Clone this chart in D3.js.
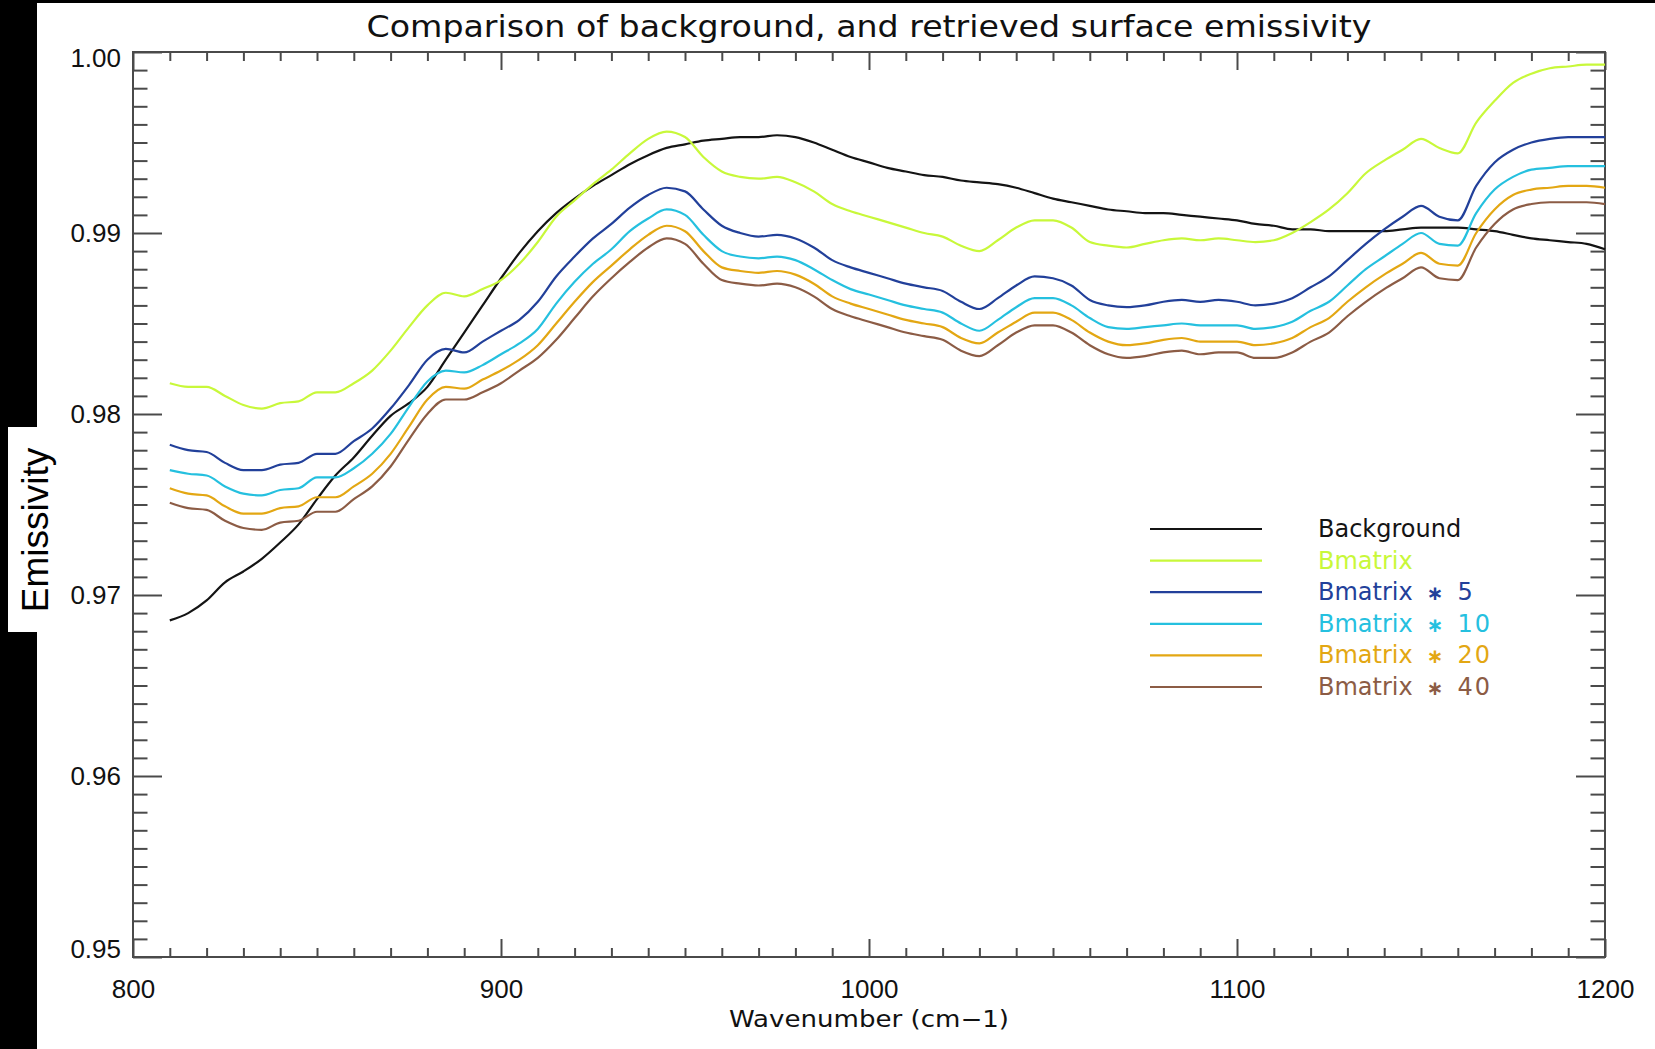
<!DOCTYPE html>
<html>
<head>
<meta charset="utf-8">
<script src="https://cdn.jsdelivr.net/npm/d3@7"></script>
<style>
  body { margin: 0; background: #fff; }
  svg { display: block; }
</style>
</head>
<body>
<svg width="1655" height="1049"></svg>
<script>
// DATA (wavenumber in cm-1, emissivity)
const wavenumber = [
  810, 815, 820, 825, 830, 835, 840, 845, 850, 855, 860, 865, 870, 875, 880, 885, 890, 895, 900, 905,
  910, 915, 920, 925, 930, 935, 940, 945, 950, 955, 960, 965, 970, 975, 980, 985, 990, 995, 1000, 1005,
  1010, 1015, 1020, 1025, 1030, 1035, 1040, 1045, 1050, 1055, 1060, 1065, 1070, 1075, 1080, 1085, 1090, 1095, 1100, 1105,
  1110, 1115, 1120, 1125, 1130, 1135, 1140, 1145, 1150, 1155, 1160, 1165, 1170, 1175, 1180, 1185, 1190, 1195, 1200
];

const background = [
  0.9686, 0.9690, 0.9697, 0.9707, 0.9713, 0.9720, 0.9729, 0.9739, 0.9753, 0.9766, 0.9776, 0.9788, 0.9799, 0.9806, 0.9815, 0.9830, 0.9845, 0.9860, 0.9875, 0.9889,
  0.9901, 0.9911, 0.9919, 0.9926, 0.9932, 0.9938, 0.9943, 0.9947, 0.9949, 0.9951, 0.9952, 0.9953, 0.9953, 0.9954, 0.9953, 0.9950, 0.9946, 0.9942, 0.9939, 0.9936,
  0.9934, 0.9932, 0.9931, 0.9929, 0.9928, 0.9927, 0.9925, 0.9922, 0.9919, 0.9917, 0.9915, 0.9913, 0.9912, 0.9911, 0.9911, 0.9910, 0.9909, 0.9908, 0.9907, 0.9905,
  0.9904, 0.9902, 0.9902, 0.9901, 0.9901, 0.9901, 0.9901, 0.9902, 0.9903, 0.9903, 0.9903, 0.9902, 0.9901, 0.9899, 0.9897, 0.9896, 0.9895, 0.9894, 0.9891
];

const bmatrix = [
  0.9817, 0.9815, 0.9815, 0.9810, 0.9805, 0.9803, 0.9806, 0.9807, 0.9812, 0.9812, 0.9817, 0.9824, 0.9835, 0.9848, 0.9860, 0.9867, 0.9865, 0.9869, 0.9874, 0.9883,
  0.9895, 0.9909, 0.9918, 0.9927, 0.9935, 0.9944, 0.9952, 0.9956, 0.9953, 0.9942, 0.9934, 0.9931, 0.9930, 0.9931, 0.9928, 0.9923, 0.9916, 0.9912, 0.9909, 0.9906,
  0.9903, 0.9900, 0.9898, 0.9893, 0.9890, 0.9896, 0.9903, 0.9907, 0.9907, 0.9903, 0.9895, 0.9893, 0.9892, 0.9894, 0.9896, 0.9897, 0.9896, 0.9897, 0.9896, 0.9895,
  0.9896, 0.9900, 0.9906, 0.9913, 0.9922, 0.9933, 0.9940, 0.9946, 0.9952, 0.9947, 0.9944, 0.9961, 0.9973, 0.9983, 0.9988, 0.9991, 0.9992, 0.9993, 0.9993
];

const bmatrix5 = [
  0.9783, 0.9780, 0.9779, 0.9773, 0.9769, 0.9769, 0.9772, 0.9773, 0.9778, 0.9778, 0.9785, 0.9792, 0.9803, 0.9816, 0.9830, 0.9836, 0.9834, 0.9840, 0.9846, 0.9852,
  0.9862, 0.9876, 0.9887, 0.9897, 0.9905, 0.9914, 0.9921, 0.9925, 0.9923, 0.9913, 0.9904, 0.9900, 0.9898, 0.9899, 0.9897, 0.9892, 0.9885, 0.9881, 0.9878, 0.9875,
  0.9872, 0.9870, 0.9868, 0.9862, 0.9858, 0.9864, 0.9871, 0.9876, 0.9875, 0.9871, 0.9863, 0.9860, 0.9859, 0.9860, 0.9862, 0.9863, 0.9862, 0.9863, 0.9862, 0.9860,
  0.9861, 0.9864, 0.9870, 0.9876, 0.9885, 0.9894, 0.9902, 0.9909, 0.9915, 0.9909, 0.9907, 0.9926, 0.9939, 0.9946, 0.9950, 0.9952, 0.9953, 0.9953, 0.9953
];

const bmatrix10 = [
  0.9769, 0.9767, 0.9766, 0.9760, 0.9756, 0.9755, 0.9758, 0.9759, 0.9765, 0.9765, 0.9770, 0.9778, 0.9789, 0.9804, 0.9818, 0.9824, 0.9823, 0.9827, 0.9833, 0.9839,
  0.9847, 0.9861, 0.9873, 0.9883, 0.9891, 0.9901, 0.9908, 0.9913, 0.9910, 0.9899, 0.9890, 0.9887, 0.9886, 0.9887, 0.9885, 0.9880, 0.9874, 0.9869, 0.9866, 0.9863,
  0.9860, 0.9858, 0.9856, 0.9850, 0.9846, 0.9852, 0.9859, 0.9864, 0.9864, 0.9860, 0.9853, 0.9848, 0.9847, 0.9848, 0.9849, 0.9850, 0.9849, 0.9849, 0.9849, 0.9847,
  0.9848, 0.9851, 0.9857, 0.9862, 0.9871, 0.9880, 0.9887, 0.9894, 0.9900, 0.9894, 0.9893, 0.9911, 0.9924, 0.9931, 0.9935, 0.9936, 0.9937, 0.9937, 0.9937
];

const bmatrix20 = [
  0.9759, 0.9756, 0.9755, 0.9749, 0.9745, 0.9745, 0.9748, 0.9749, 0.9754, 0.9754, 0.9760, 0.9767, 0.9778, 0.9793, 0.9808, 0.9815, 0.9814, 0.9819, 0.9824, 0.9830,
  0.9838, 0.9850, 0.9862, 0.9873, 0.9882, 0.9891, 0.9899, 0.9904, 0.9901, 0.9890, 0.9881, 0.9879, 0.9878, 0.9879, 0.9877, 0.9872, 0.9865, 0.9861, 0.9858, 0.9855,
  0.9852, 0.9850, 0.9848, 0.9842, 0.9839, 0.9845, 0.9851, 0.9856, 0.9856, 0.9852, 0.9845, 0.9840, 0.9838, 0.9839, 0.9841, 0.9842, 0.9840, 0.9840, 0.9840, 0.9838,
  0.9839, 0.9842, 0.9848, 0.9853, 0.9862, 0.9870, 0.9877, 0.9883, 0.9889, 0.9883, 0.9882, 0.9900, 0.9913, 0.9921, 0.9924, 0.9925, 0.9926, 0.9926, 0.9925
];

const bmatrix40 = [
  0.9751, 0.9748, 0.9747, 0.9741, 0.9737, 0.9736, 0.9740, 0.9741, 0.9746, 0.9746, 0.9753, 0.9760, 0.9771, 0.9786, 0.9800, 0.9808, 0.9808, 0.9812, 0.9817, 0.9824,
  0.9831, 0.9841, 0.9853, 0.9865, 0.9875, 0.9884, 0.9892, 0.9897, 0.9894, 0.9883, 0.9874, 0.9872, 0.9871, 0.9872, 0.9870, 0.9865, 0.9858, 0.9854, 0.9851, 0.9848,
  0.9845, 0.9843, 0.9841, 0.9835, 0.9832, 0.9838, 0.9845, 0.9849, 0.9849, 0.9845, 0.9838, 0.9833, 0.9831, 0.9832, 0.9834, 0.9835, 0.9833, 0.9834, 0.9834, 0.9831,
  0.9831, 0.9834, 0.9840, 0.9845, 0.9854, 0.9862, 0.9869, 0.9875, 0.9881, 0.9875, 0.9874, 0.9892, 0.9905, 0.9913, 0.9916, 0.9917, 0.9917, 0.9917, 0.9916
];

// legend labels: base name and multiplier ("" for none)
const seriesNames = ["Background", "Bmatrix", "Bmatrix", "Bmatrix", "Bmatrix", "Bmatrix"];
const seriesFactors = ["", "", "5", "10", "20", "40"];
const seriesValues = [background, bmatrix, bmatrix5, bmatrix10, bmatrix20, bmatrix40];
const seriesColors = ["#141414", "#c8f83a", "#22409a", "#25c0df", "#e3a713", "#8c5c45"];

const xDomain = [800, 1200];
const yDomain = [0.95, 1.00];
const xTickLabels = [800, 900, 1000, 1100, 1200];
const yTickLabels = [0.95, 0.96, 0.97, 0.98, 0.99, 1.00];

// SETUP
const svg = d3.select("svg");
const plot = { left: 133, top: 52, right: 1605, bottom: 957 };
const width = plot.right - plot.left;
const height = plot.bottom - plot.top;
const axisColor = "#4a4a4a";
const hershey = "'DejaVu Sans', sans-serif";
const helv = "'Liberation Sans', Arial, sans-serif";

// black frame strips of the screenshot
svg.append("rect").attr("x", 0).attr("y", 0).attr("width", 1655).attr("height", 3).attr("fill", "#000");
svg.append("rect").attr("x", 0).attr("y", 0).attr("width", 37).attr("height", 1049).attr("fill", "#000");
svg.append("rect").attr("x", 8).attr("y", 427).attr("width", 40).attr("height", 205).attr("fill", "#fff");

const xScale = d3.scaleLinear().domain(xDomain).range([0, width]);
const yScale = d3.scaleLinear().domain(yDomain).range([height, 0]);

const g = svg.append("g").attr("transform", `translate(${plot.left},${plot.top})`);

// minor ticks (all four sides)
const xMinor = d3.range(810, 1200, 10).filter((v) => v % 100 !== 0);
const yMinor = d3.range(951, 1000, 1).map((v) => v / 1000).filter((v, i) => (i + 1) % 10 !== 0);

function styleAxis(sel) {
  sel.select(".domain").remove();
  sel.selectAll(".tick line").attr("stroke", axisColor).attr("stroke-width", 2);
}

g.append("g").attr("transform", `translate(0,${height})`)
  .call(d3.axisBottom(xScale).tickValues(xMinor).tickSize(-9).tickFormat(""))
  .call(styleAxis);
g.append("g")
  .call(d3.axisTop(xScale).tickValues(xMinor).tickSize(-9).tickFormat(""))
  .call(styleAxis);
g.append("g")
  .call(d3.axisLeft(yScale).tickValues(yMinor).tickSize(-14.5).tickFormat(""))
  .call(styleAxis);
g.append("g").attr("transform", `translate(${width},0)`)
  .call(d3.axisRight(yScale).tickValues(yMinor).tickSize(-14.5).tickFormat(""))
  .call(styleAxis);

// major ticks with labels
const xAxis = g.append("g").attr("transform", `translate(0,${height})`)
  .call(d3.axisBottom(xScale).tickValues(xTickLabels).tickSize(-18).tickPadding(23).tickFormat(d3.format("d")))
  .call(styleAxis);
xAxis.selectAll("text").attr("font-family", helv).attr("font-size", 26).attr("fill", "#111");

g.append("g")
  .call(d3.axisTop(xScale).tickValues(xTickLabels).tickSize(-18).tickFormat(""))
  .call(styleAxis);

const yAxis = g.append("g")
  .call(d3.axisLeft(yScale).tickValues(yTickLabels).tickSize(-29).tickPadding(12).tickFormat(d3.format(".2f")))
  .call(styleAxis);
yAxis.selectAll("text").attr("font-family", helv).attr("font-size", 26).attr("fill", "#111")
  .attr("transform", (d) => (d === 1.0 ? "translate(0,6)" : d === 0.95 ? "translate(0,-8)" : null));

g.append("g").attr("transform", `translate(${width},0)`)
  .call(d3.axisRight(yScale).tickValues(yTickLabels).tickSize(-29).tickFormat(""))
  .call(styleAxis);

// plot frame
g.append("rect")
  .attr("width", width).attr("height", height)
  .attr("fill", "none").attr("stroke", axisColor).attr("stroke-width", 2);

// lines
const line = d3.line()
  .curve(d3.curveMonotoneX)
  .x((d) => xScale(d[0]))
  .y((d) => yScale(d[1]));

seriesValues.forEach((vals, i) => {
  g.append("path")
    .datum(wavenumber.map((w, j) => [w, vals[j]]))
    .attr("fill", "none")
    .attr("stroke", seriesColors[i])
    .attr("stroke-width", 2.2)
    .attr("stroke-linejoin", "round")
    .attr("d", line);
});

// legend
const legend = svg.append("g").attr("transform", "translate(1150,529)");
seriesNames.forEach((name, i) => {
  const row = legend.append("g").attr("transform", `translate(0,${i * 31.6})`);
  row.append("line").attr("x1", 0).attr("x2", 112).attr("y1", 0).attr("y2", 0)
    .attr("stroke", seriesColors[i]).attr("stroke-width", 2.2);
  const t = row.append("text").attr("x", 168).attr("y", 8)
    .attr("font-family", hershey).attr("font-size", 24)
    .attr("fill", seriesColors[i]);
  t.append("tspan").text(name);
  if (seriesFactors[i]) {
    t.append("tspan").attr("dx", 14).attr("font-size", 20).attr("font-weight", "bold").text("\u2217");
    t.append("tspan").attr("dx", 14).attr("letter-spacing", 2).text(seriesFactors[i]);
  }
});

// title and axis titles
svg.append("text")
  .attr("x", plot.left + width / 2).attr("y", 37)
  .attr("text-anchor", "middle")
  .attr("font-family", hershey).attr("font-size", 30).attr("fill", "#111")
  .attr("textLength", 1005).attr("lengthAdjust", "spacingAndGlyphs")
  .text("Comparison of background, and retrieved surface emissivity");

svg.append("text")
  .attr("x", plot.left + width / 2).attr("y", 1027)
  .attr("text-anchor", "middle")
  .attr("font-family", hershey).attr("font-size", 23).attr("fill", "#111")
  .attr("textLength", 280).attr("lengthAdjust", "spacingAndGlyphs")
  .text("Wavenumber (cm\u22121)");

svg.append("text")
  .attr("transform", "translate(48,530) rotate(-90)")
  .attr("text-anchor", "middle")
  .attr("font-family", helv).attr("font-size", 37).attr("fill", "#000")
  .text("Emissivity");
</script>
</body>
</html>
